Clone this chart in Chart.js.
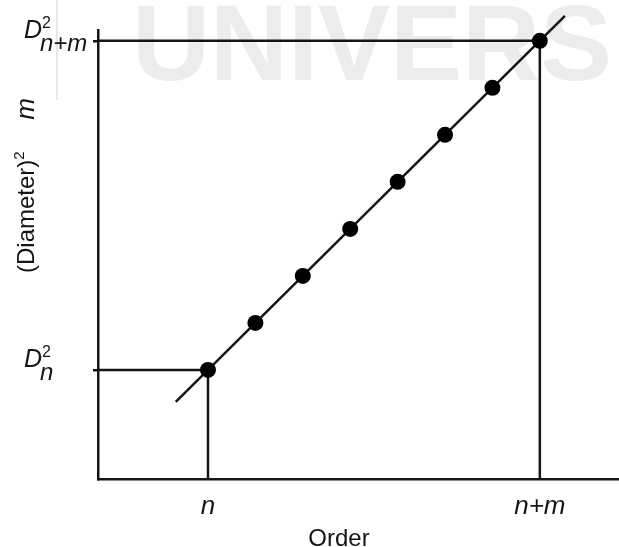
<!DOCTYPE html>
<html>
<head>
<meta charset="utf-8">
<script src="https://cdn.jsdelivr.net/npm/chart.js@4"></script>
<style>
  html, body { margin: 0; padding: 0; background: #fff; overflow: hidden; }
  canvas { display: block; }
</style>
</head>
<body>
<canvas id="orderChart" width="619" height="547"></canvas>
<script>
// order index k = 0 (n) ... 7 (n+m), and the matching (diameter)^2 steps
const orders = [0, 1, 2, 3, 4, 5, 6, 7];
const diamSq = [0, 1, 2, 3, 4, 5, 6, 7];

// fitted straight line, a bit longer than the points on both ends
const fitX = [-0.68, 7.53];
const fitY = [-0.68, 7.53];

// ticks: n and n+m
const tickValues = [0, 7];
const xTickLabels = ['n', 'n+m'];
const yTickSubs = ['n', 'n+m'];

const xMin = -2.32, xMax = 8.67;
const yMin = -2.32, yMax = 7.23;

const INK = '#151515';

const pointData = orders.map((o, i) => ({x: o, y: diamSq[i]}));
const fitData = fitX.map((x, i) => ({x: x, y: fitY[i]}));
const lowGuide = [{x: xMin, y: diamSq[0]}, {x: orders[0], y: diamSq[0]}, {x: orders[0], y: yMin}];
const highGuide = [{x: xMin, y: diamSq[7]}, {x: orders[7], y: diamSq[7]}, {x: orders[7], y: yMin}];

const watermark = {
  id: 'watermark',
  beforeDraw(chart) {
    const ctx = chart.ctx;
    ctx.save();
    ctx.fillStyle = '#ececec';
    ctx.font = 'bold 108px "Liberation Sans", Arial, sans-serif';
    ctx.textBaseline = 'alphabetic';
    ctx.fillText('UNIVERS', 132, 80);
    ctx.fillStyle = '#e8e8e8';
    ctx.fillRect(56, 0, 2, 100);
    ctx.restore();
  }
};

const labels = {
  id: 'labels',
  afterDraw(chart) {
    const ctx = chart.ctx;
    const y = chart.scales.y;
    ctx.save();
    ctx.fillStyle = INK;
    ctx.textBaseline = 'alphabetic';
    ctx.textAlign = 'left';

    // D^2 with subscript, for each y tick
    tickValues.forEach((v, i) => {
      const py = y.getPixelForValue(v);
      ctx.font = 'italic 25px "Liberation Sans", Arial, sans-serif';
      ctx.fillText('D', 24, py - 3);
      ctx.font = '16px "Liberation Sans", Arial, sans-serif';
      ctx.fillText('2', 42, py - 13);
      ctx.font = 'italic 24px "Liberation Sans", Arial, sans-serif';
      ctx.fillText(yTickSubs[i], 40, py + 10);
    });

    // y axis title
    ctx.save();
    ctx.translate(34, 273);
    ctx.rotate(-Math.PI / 2);
    ctx.font = '24px "Liberation Sans", Arial, sans-serif';
    ctx.fillText('(Diameter)', 0, 0);
    const w = ctx.measureText('(Diameter)').width;
    ctx.font = '15px "Liberation Sans", Arial, sans-serif';
    ctx.fillText('2', w, -10);
    ctx.font = 'italic 26px "Liberation Sans", Arial, sans-serif';
    ctx.fillText('m', w + 40, 0);
    ctx.restore();

    // x axis title
    ctx.font = '24px "Liberation Sans", Arial, sans-serif';
    ctx.textAlign = 'center';
    ctx.fillText('Order', chart.chartArea.left + 241, 546);
    ctx.restore();
  }
};

new Chart(document.getElementById('orderChart'), {
  type: 'scatter',
  data: {
    datasets: [
      {
        data: pointData,
        pointRadius: 8,
        pointHoverRadius: 8,
        pointBackgroundColor: '#000',
        pointBorderWidth: 0,
        showLine: false
      },
      {
        data: fitData,
        showLine: true,
        borderColor: INK,
        borderWidth: 2.5,
        pointRadius: 0,
        clip: false
      },
      {
        data: lowGuide,
        showLine: true,
        borderColor: INK,
        borderWidth: 2.5,
        pointRadius: 0
      },
      {
        data: highGuide,
        showLine: true,
        borderColor: INK,
        borderWidth: 2.5,
        pointRadius: 0
      }
    ]
  },
  options: {
    responsive: false,
    animation: false,
    layout: {autoPadding: false, padding: {top: 30, left: 0, right: 0, bottom: 0}},
    plugins: {
      legend: {display: false},
      tooltip: {enabled: false}
    },
    scales: {
      x: {
        type: 'linear',
        min: xMin,
        max: xMax,
        afterBuildTicks: (s) => { s.ticks = tickValues.map(v => ({value: v})); },
        afterFit: (s) => { s.height = 68; s.paddingLeft = 0; s.paddingRight = 0; },
        grid: {display: false, drawTicks: false},
        border: {display: true, color: INK, width: 2.5},
        ticks: {
          color: INK,
          padding: 12,
          font: {family: '"Liberation Sans", Arial, sans-serif', size: 26, style: 'italic'},
          callback: (v) => xTickLabels[tickValues.indexOf(v)] || ''
        }
      },
      y: {
        type: 'linear',
        min: yMin,
        max: yMax,
        afterBuildTicks: (s) => { s.ticks = tickValues.map(v => ({value: v})); },
        afterFit: (s) => { s.width = 98; s.paddingTop = 0; s.paddingBottom = 0; },
        grid: {display: true, drawOnChartArea: false, drawTicks: true, tickLength: 5, color: INK, lineWidth: 2.5},
        border: {display: true, color: INK, width: 2.5},
        ticks: {
          callback: () => ''
        }
      }
    }
  },
  plugins: [watermark, labels]
});
</script>
</body>
</html>
